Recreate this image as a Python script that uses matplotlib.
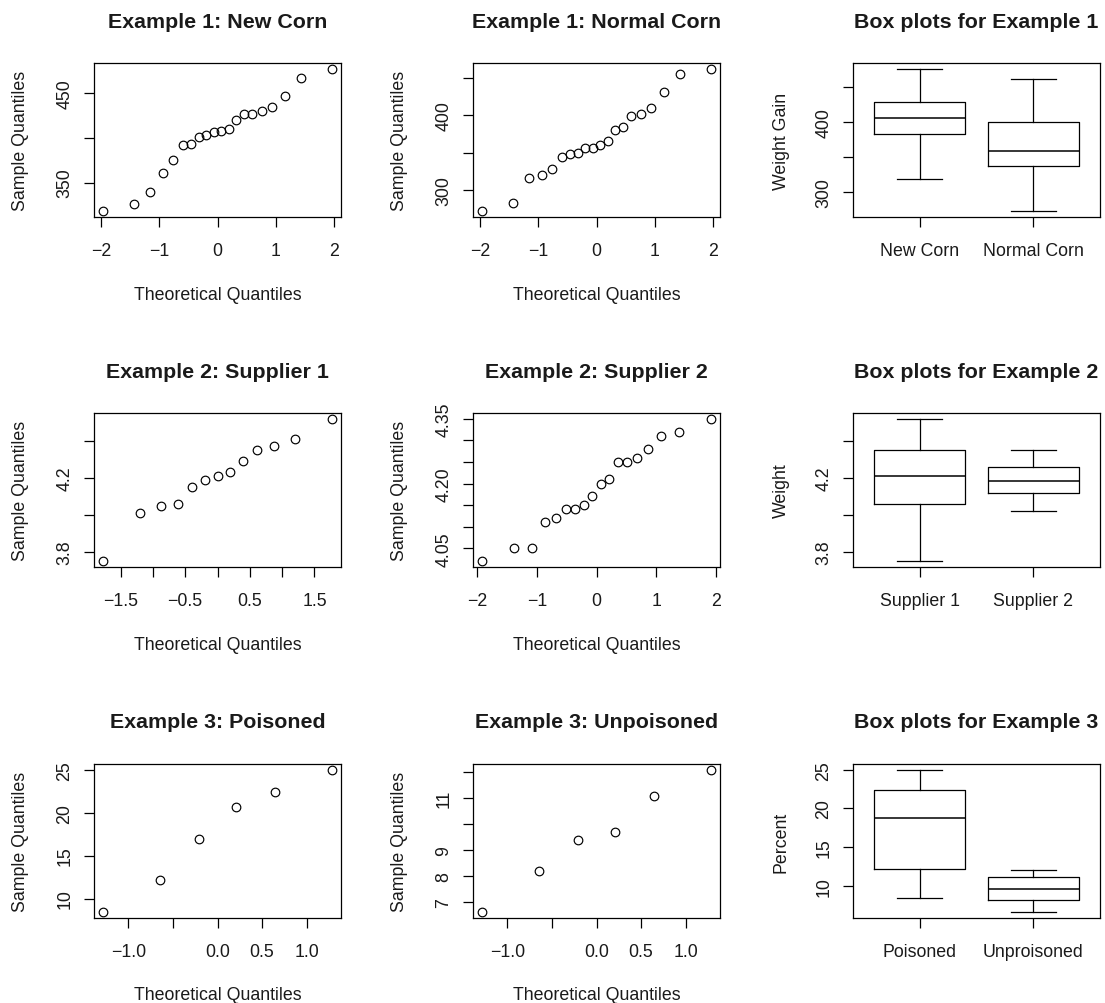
import math
import matplotlib
matplotlib.use("Agg")
import matplotlib.pyplot as plt
from statistics import NormalDist

# ---------------- data ----------------
new_corn = [318, 326, 339, 361, 375, 392, 393, 401, 403, 406, 407, 410, 420,
            426, 427, 430, 434, 447, 467, 477]
normal_corn = [272, 283, 316, 321, 329, 345, 349, 350, 356, 356, 360, 366, 380,
               384, 399, 402, 410, 431, 455, 462]
supplier1 = [3.75, 4.01, 4.05, 4.06, 4.15, 4.19, 4.21, 4.23, 4.29, 4.35, 4.37,
             4.41, 4.52]
supplier2 = [4.02, 4.05, 4.05, 4.11, 4.12, 4.14, 4.14, 4.15, 4.17, 4.20, 4.21,
             4.25, 4.25, 4.26, 4.28, 4.31, 4.32, 4.35]
poisoned = [8.4, 12.2, 16.9, 20.6, 22.4, 25.0]
unpoisoned = [6.6, 8.2, 9.4, 9.7, 11.1, 12.1]

qq_titles = ["Example 1: New Corn", "Example 1: Normal Corn",
             "Example 2: Supplier 1", "Example 2: Supplier 2",
             "Example 3: Poisoned", "Example 3: Unpoisoned"]
box_titles = ["Box plots for Example 1", "Box plots for Example 2",
              "Box plots for Example 3"]
box_groups = [["New Corn", "Normal Corn"], ["Supplier 1", "Supplier 2"],
              ["Poisoned", "Unproisoned"]]
box_ylabels = ["Weight Gain", "Weight", "Percent"]

# tick definitions (values, labels) -- R drops overlapping labels
qq_xticks = [
    ([-2, -1, 0, 1, 2], ["\u22122", "\u22121", "0", "1", "2"]),
    ([-2, -1, 0, 1, 2], ["\u22122", "\u22121", "0", "1", "2"]),
    ([-1.5, -1, -0.5, 0, 0.5, 1, 1.5], ["\u22121.5", "", "\u22120.5", "", "0.5", "", "1.5"]),
    ([-2, -1, 0, 1, 2], ["\u22122", "\u22121", "0", "1", "2"]),
    ([-1.0, -0.5, 0, 0.5, 1.0], ["\u22121.0", "", "0.0", "0.5", "1.0"]),
    ([-1.0, -0.5, 0, 0.5, 1.0], ["\u22121.0", "", "0.0", "0.5", "1.0"]),
]
qq_yticks = [
    ([350, 400, 450], ["350", "", "450"]),
    ([300, 350, 400, 450], ["300", "", "400", ""]),
    ([3.8, 4.0, 4.2, 4.4], ["3.8", "", "4.2", ""]),
    ([4.05, 4.10, 4.15, 4.20, 4.25, 4.30, 4.35], ["4.05", "", "", "4.20", "", "", "4.35"]),
    ([10, 15, 20, 25], ["10", "15", "20", "25"]),
    ([7, 8, 9, 10, 11, 12], ["7", "8", "9", "", "11", ""]),
]
box_yticks = [
    ([300, 350, 400, 450], ["300", "", "400", ""]),
    ([3.8, 4.0, 4.2, 4.4], ["3.8", "", "4.2", ""]),
    ([10, 15, 20, 25], ["10", "15", "20", "25"]),
]

# ---------------- helpers ----------------
def ppoints(n):
    a = 3 / 8 if n <= 10 else 0.5
    return [(i - a) / (n + 1 - 2 * a) for i in range(1, n + 1)]


def rlim(vals):
    lo, hi = min(vals), max(vals)
    d = 0.04 * (hi - lo)
    return lo - d, hi + d


def fivenum(v):
    x = sorted(v)
    n = len(x)
    n4 = ((n + 3) // 2) / 2
    d = [1, n4, (n + 1) / 2, n + 1 - n4, n]
    return [0.5 * (x[math.floor(di) - 1] + x[math.ceil(di) - 1]) for di in d]


def box_stats(v, label):
    _, q1, med, q3, _ = fivenum(v)
    iqr = q3 - q1
    inside = [a for a in v if q1 - 1.5 * iqr <= a <= q3 + 1.5 * iqr]
    return dict(med=med, q1=q1, q3=q3, whislo=min(inside), whishi=max(inside),
                fliers=[], label=label)


# ---------------- figure ----------------
W, H = 1105, 1004
plt.rcParams["font.family"] = ["Liberation Sans", "DejaVu Sans"]
TXT = "#1a1a1a"
FS = 12.8
fig = plt.figure(figsize=(W / 100, H / 100), dpi=100)

col_left = [94, 473, 853]
row_top = [64, 414, 765]
AW, AH = 247, 154


def make_ax(r, c):
    L, T = col_left[c], row_top[r]
    ax = fig.add_axes([L / W, 1 - (T + AH) / H, AW / W, AH / H])
    for s in ax.spines.values():
        s.set_linewidth(0.9)
        s.set_color("black")
    ax.tick_params(direction="out", length=7, width=0.9, colors="black",
                   labelcolor=TXT, labelsize=FS)
    ax.tick_params(axis="x", pad=11)
    ax.tick_params(axis="y", pad=8)
    return ax


def finish(ax, title, xlabel, ylabel, ylab_off=73):
    ax.set_title(title, fontsize=FS * 1.2, fontweight="bold", color=TXT,
                 y=1 + 42 / AH, va="center", pad=0)
    if xlabel:
        ax.set_xlabel(xlabel, fontsize=FS, color=TXT, va="center")
        ax.xaxis.set_label_coords(0.5, -77 / AH)
    ax.set_ylabel(ylabel, fontsize=FS, color=TXT, va="center")
    ax.yaxis.set_label_coords(-ylab_off / AW, 0.5)


def set_yt(ax, ticks):
    vals, labs = ticks
    ax.set_yticks(vals)
    ax.set_yticklabels(labs, rotation=90, va="center")


qq_data = [new_corn, normal_corn, supplier1, supplier2, poisoned, unpoisoned]
for k, data in enumerate(qq_data):
    r, c = k // 2, k % 2
    ax = make_ax(r, c)
    y = sorted(data)
    x = [NormalDist().inv_cdf(p) for p in ppoints(len(y))]
    ax.plot(x, y, "o", mfc="none", mec="black", ms=6.2, mew=0.85)
    ax.set_xlim(*rlim(x))
    ax.set_ylim(*rlim(y))
    ax.set_xticks(qq_xticks[k][0])
    ax.set_xticklabels(qq_xticks[k][1])
    set_yt(ax, qq_yticks[k])
    finish(ax, qq_titles[k], "Theoretical Quantiles", "Sample Quantiles")

box_data = [(new_corn, normal_corn), (supplier1, supplier2), (poisoned, unpoisoned)]
for r, (a, b) in enumerate(box_data):
    ax = make_ax(r, 2)
    stats = [box_stats(a, box_groups[r][0]), box_stats(b, box_groups[r][1])]
    lp = dict(color="black", linewidth=0.9)
    ax.bxp(stats, positions=[1, 2], widths=0.8, capwidths=0.4, showfliers=False,
           boxprops=lp, whiskerprops=lp, capprops=lp,
           medianprops=dict(color="black", linewidth=1.1))
    ax.set_xlim(0.415, 2.585)
    ax.set_ylim(*rlim(list(a) + list(b)))
    set_yt(ax, box_yticks[r])
    finish(ax, box_titles[r], None, box_ylabels[r], ylab_off=72)

fig.savefig("out.png", dpi=100)
